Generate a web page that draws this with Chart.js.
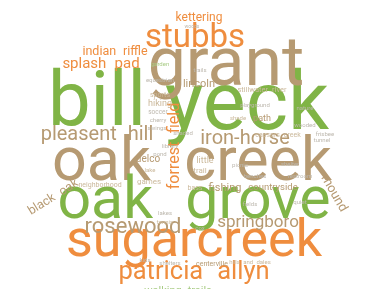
<!DOCTYPE html>
<html>
<head>
<meta charset="utf-8">
<script src="https://cdn.jsdelivr.net/npm/chart.js@4"></script>
<style>
  html, body { margin: 0; padding: 0; background: #fff; }
  #wrap { width: 381px; height: 289px; }
</style>
</head>
<body>
<div id="wrap"><canvas id="cloudChart"></canvas></div>
<script>
// word cloud: each word is a point in a 381 x 289 layout space
const words = [
  'bill', 'yeck', 'grant', 'oak creek', 'oak grove', 'sugarcreek',
  'stubbs', 'patricia allyn', 'pleasent hill', 'iron-horse', 'rosewood', 'springboro',
  'forrest field', 'splash pad', 'indian riffle', 'kettering', 'lincoln', 'black oak',
  'mound', 'delco', 'fishing', 'countryside', 'little', 'hiking',
  'path', 'caesars creek', 'stillwater river', 'centerville', 'neighborhood', 'games',
  'trail', 'walking trails',
  'garden', 'equestrian', 'sports', 'soccer', 'cherry', 'swings',
  'trails', 'playground', 'nature', 'wooded', 'shade', 'frisbee',
  'tunnel', 'library', 'shaded', 'lake', 'pond', 'bass',
  'picnic', 'shelter', 'benches', 'restroom', 'lakes', 'tennis',
  'cox', 'fields', 'quiet', 'shelters', 'hills and dales', 'kids', 'woods'
];
const weights = [
  76, 81, 68, 61, 59, 52,
  33, 25.5, 20, 20, 22, 17,
  16, 15, 12.5, 12, 11, 12.5,
  13, 10, 11, 9.5, 9, 9,
  9, 7, 7.5, 7, 7, 8,
  8, 11,
  6, 6, 7, 6.5, 6, 6,
  6, 6, 6, 6, 6, 6,
  6, 6, 6, 6, 6, 7,
  6, 6, 6, 6, 6, 6,
  6, 6, 6, 6, 6, 6, 5
];
const cloudX = [
  97, 247, 226, 192, 194, 194,
  195, 194, 97, 245, 133, 258,
  179, 101, 115, 199, 199, 55,
  331, 148, 225, 273, 205, 160,
  262, 278, 262, 212, 100, 149,
  200, 178,
  160, 160, 160, 158, 158, 157,
  200, 255, 305, 305, 238, 325,
  322, 170, 183, 150, 160, 195,
  240, 290, 255, 300, 165, 165,
  200, 250, 300, 170, 250, 145, 192
];
const cloudY = [
  125, 129, 85, 180, 218, 256,
  47, 279, 140, 144, 233, 227,
  146, 68, 55, 21, 87, 200,
  195, 162, 191, 190, 163, 106,
  121, 137, 92, 266, 187, 184,
  173, 294,
  66, 82, 97, 114, 122, 130,
  72, 107, 110, 127, 120, 136,
  142, 148, 135, 172, 156, 190,
  167, 166, 178, 178, 215, 224,
  230, 206, 204, 265, 264, 262, 28
];
const angles = [
  0, 0, 0, 0, 0, 0,
  0, 0, 0, 0, 0, 0,
  -90, 0, 0, 0, 0, -32,
  60, 0, 0, 0, 0, 0,
  0, 0, 0, 0, 0, 0,
  0, 0,
  0, 0, 0, 0, 0, 0,
  0, 0, 0, 0, 0, 0,
  0, 0, 0, 0, 0, 0,
  0, 0, 0, 0, 0, 0,
  0, 0, 0, 0, 0, 0, 0
];
// 0 green, 1 tan, 2 orange, 3 pale tan, 4 grey, 5 pale green
const groups = [
  0, 0, 1, 1, 0, 2,
  2, 2, 1, 1, 1, 1,
  2, 2, 2, 2, 1, 1,
  1, 1, 1, 1, 3, 3,
  1, 3, 3, 1, 3, 3,
  3, 5,
  5, 4, 3, 4, 4, 4,
  4, 4, 4, 4, 3, 4,
  4, 4, 4, 3, 4, 3,
  4, 4, 4, 4, 4, 3,
  4, 4, 4, 4, 3, 4, 4
];
const groupColors = ['#80b446', '#b69a72', '#ef8d3e', '#cbb99c', '#bdb8ae', '#a9cc86'];

const points = words.map((w, i) => ({
  x: cloudX[i], y: cloudY[i], word: w, weight: weights[i], angle: angles[i], group: groups[i]
}));

const wordCloudText = {
  id: 'wordCloudText',
  afterDatasetsDraw(chart) {
    const ctx = chart.ctx;
    const meta = chart.getDatasetMeta(0);
    const ys = chart.scales.y;
    const unit = Math.abs(ys.getPixelForValue(1) - ys.getPixelForValue(0));
    meta.data.forEach((pt, i) => {
      const d = chart.data.datasets[0].data[i];
      const size = d.weight * unit;
      ctx.save();
      ctx.translate(pt.x, pt.y);
      ctx.rotate(d.angle * Math.PI / 180);
      ctx.font = size + 'px Roboto';
      ctx.wordSpacing = (size * 0.3) + 'px';
      ctx.fillStyle = groupColors[d.group];
      ctx.textAlign = 'center';
      ctx.textBaseline = 'alphabetic';
      ctx.fillText(d.word, 0, 0);
      ctx.restore();
    });
  }
};

new Chart(document.getElementById('cloudChart').getContext('2d'), {
  type: 'scatter',
  data: {
    datasets: [{
      data: points,
      pointRadius: 0,
      pointHoverRadius: 0
    }]
  },
  options: {
    responsive: true,
    maintainAspectRatio: false,
    animation: false,
    layout: { padding: 0 },
    plugins: { legend: { display: false }, tooltip: { enabled: false } },
    scales: {
      x: { display: false, min: 0, max: 381 },
      y: { display: false, min: 0, max: 289, reverse: true }
    }
  },
  plugins: [wordCloudText]
});
</script>
</body>
</html>
